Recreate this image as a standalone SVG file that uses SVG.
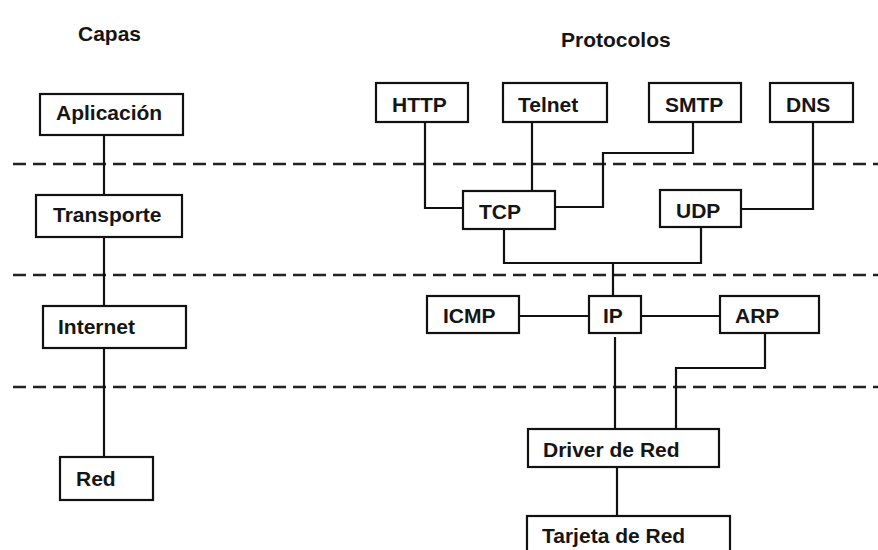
<svg xmlns="http://www.w3.org/2000/svg" width="878" height="550" viewBox="0 0 878 550">
<style>
.box{fill:#fff;stroke:#111;stroke-width:2.2}
.t{font-family:"Liberation Sans",Arial,sans-serif;font-weight:bold;font-size:21px;fill:#151515}
.c{fill:none;stroke:#111;stroke-width:2.2}
.d{fill:none;stroke:#222;stroke-width:2.4;stroke-dasharray:13 7}
</style>
<rect width="878" height="550" fill="#fff"/>
<g id="dividers">
<line class="d" x1="13" y1="164" x2="878" y2="164"/>
<line class="d" x1="13" y1="275" x2="878" y2="275"/>
<line class="d" x1="13" y1="387" x2="878" y2="387"/>
</g>
<g id="titles">
<text class="t" x="78" y="41">Capas</text>
<text class="t" x="561" y="47">Protocolos</text>
</g>
<g id="connectors">
<line class="c" x1="104" y1="135" x2="104" y2="195"/>
<line class="c" x1="104" y1="237" x2="104" y2="306"/>
<line class="c" x1="104" y1="348" x2="104" y2="457"/>
<polyline class="c" points="425,122 425,208 463,208"/>
<line class="c" x1="532" y1="122" x2="532" y2="191"/>
<polyline class="c" points="693,122 693,153 603,153 603,207 555,207"/>
<polyline class="c" points="813,122 813,209 741,209"/>
<polyline class="c" points="504,229 504,263 701,263 701,227"/>
<line class="c" x1="613" y1="263" x2="613" y2="296"/>
<line class="c" x1="519" y1="316" x2="589" y2="316"/>
<line class="c" x1="641" y1="316" x2="720" y2="316"/>
<line class="c" x1="615" y1="337" x2="615" y2="429"/>
<polyline class="c" points="765,333 765,368 676,368 676,429"/>
<line class="c" x1="617" y1="467" x2="617" y2="516"/>
</g>
<g id="aplicacion"><rect class="box" x="40" y="94" width="143" height="41"/><text class="t" x="56" y="120">Aplicación</text></g>
<g id="transporte"><rect class="box" x="36" y="195" width="146" height="42"/><text class="t" x="53" y="222">Transporte</text></g>
<g id="internet"><rect class="box" x="43" y="306" width="143" height="42"/><text class="t" x="58" y="334">Internet</text></g>
<g id="red"><rect class="box" x="60" y="457" width="93" height="43"/><text class="t" x="76" y="486">Red</text></g>
<g id="http"><rect class="box" x="376" y="83" width="92" height="39"/><text class="t" x="392" y="112">HTTP</text></g>
<g id="telnet"><rect class="box" x="503" y="83" width="104" height="39"/><text class="t" x="518" y="112">Telnet</text></g>
<g id="smtp"><rect class="box" x="649" y="83" width="92" height="39"/><text class="t" x="665" y="112">SMTP</text></g>
<g id="dns"><rect class="box" x="770" y="83" width="83" height="39"/><text class="t" x="786" y="112">DNS</text></g>
<g id="tcp"><rect class="box" x="463" y="191" width="92" height="38"/><text class="t" x="479" y="219">TCP</text></g>
<g id="udp"><rect class="box" x="660" y="190" width="81" height="37"/><text class="t" x="676" y="218">UDP</text></g>
<g id="icmp"><rect class="box" x="427" y="296" width="92" height="37"/><text class="t" x="443" y="323">ICMP</text></g>
<g id="ip"><rect class="box" x="589" y="296" width="52" height="37"/><text class="t" x="603" y="323">IP</text></g>
<g id="arp"><rect class="box" x="720" y="296" width="99" height="37"/><text class="t" x="735" y="323">ARP</text></g>
<g id="driver"><rect class="box" x="528" y="429" width="191" height="38"/><text class="t" x="543" y="457">Driver de Red</text></g>
<g id="tarjeta"><rect class="box" x="527" y="516" width="203" height="40"/><text class="t" x="542" y="543">Tarjeta de Red</text></g>
</svg>
